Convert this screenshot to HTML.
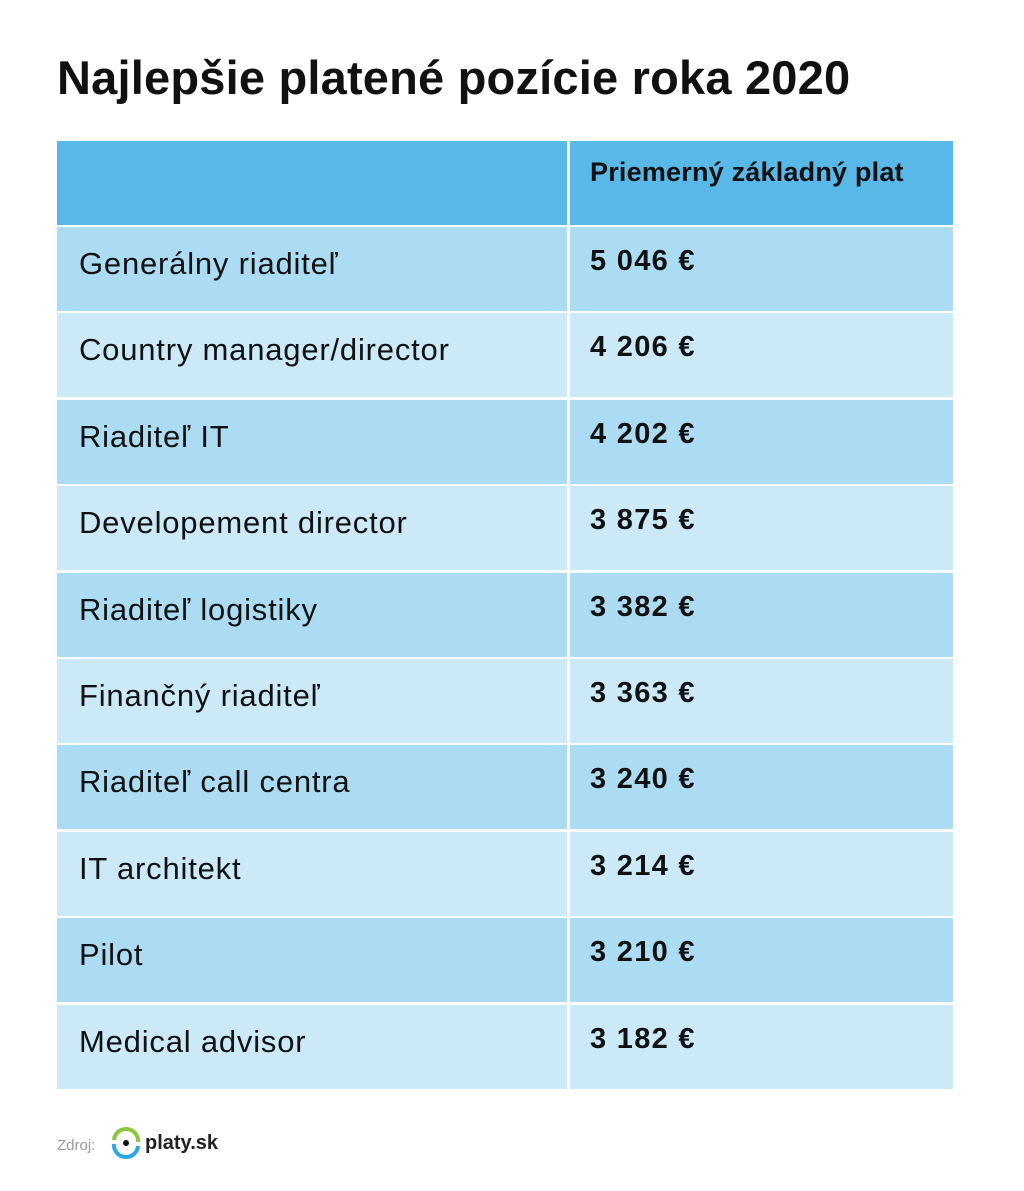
<!DOCTYPE html>
<html><head><meta charset="utf-8"><style>
body{margin:0;width:1024px;height:1191px;background:#fff;position:relative;font-family:"Liberation Sans",sans-serif;overflow:hidden}
h1{position:absolute;left:57px;top:50px;margin:0;font-size:47px;font-weight:bold;color:#111;letter-spacing:0.2px}
.c{position:absolute;box-sizing:border-box;color:#111}
.l{left:57px;width:510px;padding-left:22px;font-size:31px;letter-spacing:0.8px}
.r{left:570px;width:383px;padding-left:20px;font-size:29px;font-weight:bold;letter-spacing:1.3px}
.h{background:#58b9e9}
.d{background:#acdcf4}
.e{background:#cce9f8}
</style></head><body>
<h1>Najlepšie platené pozície roka 2020</h1>
<div class="c l h" style="top:141px;height:84px"></div>
<div class="c r h" style="top:141px;height:84px;padding-top:16px;font-size:27px;letter-spacing:0.2px">Priemerný základný plat</div>
<div id="rows"></div>
<div style="position:absolute;left:57px;top:1137px;font-size:15px;color:#999">Zdroj:</div>
<svg style="position:absolute;left:108px;top:1126px" width="36" height="36" viewBox="0 0 36 36">
<path d="M6 14 A12 12 0 0 1 30 16" stroke="#8cc63f" stroke-width="4" fill="none"/>
<path d="M30 20 A12 12 0 0 1 6 18" stroke="#29a9e0" stroke-width="4" fill="none"/>
<circle cx="18" cy="17" r="3" fill="#111"/></svg>
<div style="position:absolute;left:145px;top:1132px;font-size:20px;font-weight:bold;color:#222">platy.sk</div>
<script>
var d=[["Generálny riaditeľ","5 046 €"],["Country manager/director","4 206 €"],["Riaditeľ IT","4 202 €"],["Developement director","3 875 €"],["Riaditeľ logistiky","3 382 €"],["Finančný riaditeľ","3 363 €"],["Riaditeľ call centra","3 240 €"],["IT architekt","3 214 €"],["Pilot","3 210 €"],["Medical advisor","3 182 €"]];
var h="";
for(var i=0;i<10;i++){var t=227+Math.round(i*86.4);var cl=i%2?"e":"d";
h+='<div class="c l '+cl+'" style="top:'+t+'px;height:84px;padding-top:19px">'+d[i][0]+'</div>';
h+='<div class="c r '+cl+'" style="top:'+t+'px;height:84px;padding-top:18px">'+d[i][1]+'</div>';}
document.getElementById("rows").innerHTML=h;
</script>
</body></html>
